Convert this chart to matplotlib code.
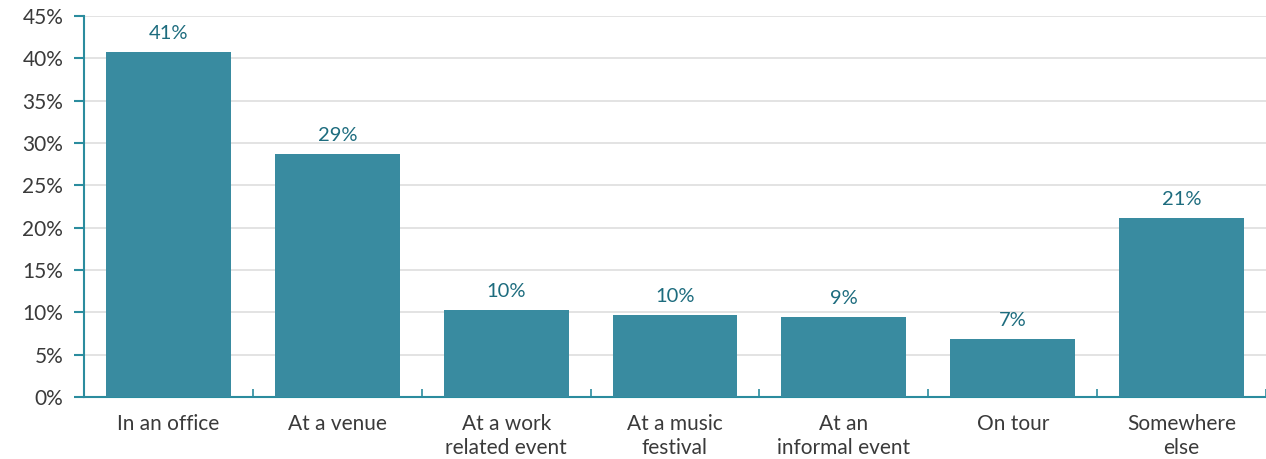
import numpy as np
import matplotlib
matplotlib.use("Agg")
import matplotlib.pyplot as plt

categories = ['In an office', 'At a venue', 'At a work\nrelated event', 'At a music\nfestival',
              'At an\ninformal event', 'On tour', 'Somewhere\nelse']
values = [40.7, 28.7, 10.3, 9.7, 9.4, 6.8, 21.1]
labels = ['41%', '29%', '10%', '10%', '9%', '7%', '21%']
yticks = [0, 5, 10, 15, 20, 25, 30, 35, 40, 45]

plt.rcParams['font.family'] = ['Lato', 'DejaVu Sans']

bar_color = '#398ba0'
axis_color = '#2b8c9e'
label_color = '#1d6c7e'
text_color = '#3a3a3a'

fig = plt.figure(figsize=(12.66, 4.59), dpi=100)
ax = fig.add_axes([84 / 1266, 1 - 397 / 459, 1 - 84 / 1266, (397 - 16) / 459])

x = np.arange(len(categories))
ax.bar(x, values, width=0.74, color=bar_color, zorder=3)
for xi, v, lab in zip(x, values, labels):
    ax.text(xi, v + 1.2, lab, ha='center', va='bottom', fontsize=14.5, color=label_color)

ax.set_xlim(-0.5, len(categories) - 0.5)
ax.set_ylim(0, 45)
ax.set_yticks(yticks)
ax.set_yticklabels([f'{t}%' for t in yticks], fontsize=15, color=text_color)
for t in yticks[1:]:
    ax.axhline(t, color='#dedede', linewidth=1.2, zorder=1)

ax.set_xticks(x)
ax.set_xticklabels(categories, fontsize=15, color=text_color, linespacing=1.28)
ax.tick_params(axis='x', length=0, pad=12)
ax.set_xticks(np.arange(-0.5, len(categories), 1.0), minor=True)
ax.tick_params(axis='x', which='minor', direction='in', length=6, color=axis_color, width=1.2)
ax.tick_params(axis='y', direction='out', length=7, color=axis_color, width=1.5, pad=8)

for side in ['top', 'right']:
    ax.spines[side].set_visible(False)
for side in ['left', 'bottom']:
    ax.spines[side].set_color(axis_color)
    ax.spines[side].set_linewidth(1.5)

fig.savefig('out.png', dpi=100)
